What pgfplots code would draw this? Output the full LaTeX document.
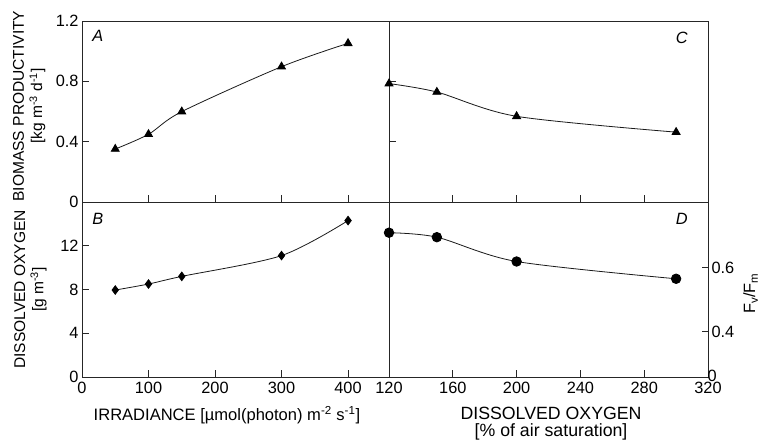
\documentclass[border=0pt]{standalone}
\usepackage{fontspec}
\setmainfont{Liberation Sans}
\usepackage{pgfplots}
\pgfplotsset{compat=1.18}

\pgfplotsset{
  panel/.style={
    scale only axis,
    axis line style={black!85, line width=0.9bp},
    tick style={black!85, line width=0.9bp},
    tick align=inside,
    major tick length=6.5bp,
    font=\fontsize{16.4}{18.5}\selectfont,
    /pgf/number format/assume math mode=true,
    xticklabel style={yshift=-2bp},
    clip=false,
  },
  curve/.style={black!90, line width=0.8bp, smooth, tension=0.5,
    mark options={solid, fill=black, draw=black}},
}
\tikzset{tag/.style={font=\fontsize{16.4}{18.5}\selectfont\itshape, inner sep=0pt}}

\begin{document}
\begin{tikzpicture}[x=1bp, y=1bp]
\useasboundingbox (0,0) rectangle (759,441);

% A: biomass productivity vs irradiance
\begin{axis}[panel, at={(82bp,239bp)}, anchor=south west,
  width=307bp, height=181bp,
  xmin=0, xmax=461.6, ymin=0, ymax=1.2,
  xtick={100,200,300,400}, xticklabels={,,,,}, xtick pos=bottom,
  ytick={0,0.4,0.8,1.2}, ytick pos=left,
  ylabel={BIOMASS PRODUCTIVITY\\{}[kg m\textsuperscript{-3} d\textsuperscript{-1}]},
  ylabel style={align=center, inner sep=0pt,
    font=\fontsize{15.6}{18.5}\selectfont,
    at={(axis description cs:-0.172,0.53)}, anchor=center},
]
\addplot[curve, mark=triangle*, mark size=4.6] coordinates {
  (50,0.351) (100,0.449) (150,0.599) (300,0.897) (400,1.052)
};
\node[tag, anchor=north west] at (rel axis cs:0.033,0.950) {A};
\end{axis}

% C: biomass productivity vs dissolved oxygen
\begin{axis}[panel, at={(389bp,239bp)}, anchor=south west,
  width=319bp, height=181bp,
  xmin=120, xmax=320, ymin=0, ymax=1.2,
  xtick={160,200,240,280}, xticklabels={,,,,}, xtick pos=bottom,
  ytick={0.4,0.8}, yticklabels={,,}, ytick pos=left,
]
\addplot[curve, mark=triangle*, mark size=4.6] coordinates {
  (120,0.785) (150,0.729) (200,0.568) (300,0.463)
};
\node[tag, anchor=north east] at (rel axis cs:0.937,0.939) {C};
\end{axis}

% B: dissolved oxygen vs irradiance
\begin{axis}[panel, at={(82bp,64bp)}, anchor=south west,
  width=307bp, height=175bp,
  xmin=0, xmax=461.6, ymin=0, ymax=16,
  xtick={0,100,200,300,400}, xtick pos=bottom,
  ytick={0,4,8,12}, ytick pos=left,
  ylabel={DISSOLVED OXYGEN\\{}[g m\textsuperscript{-3}]},
  ylabel style={align=center, inner sep=0pt,
    font=\fontsize{15.6}{18.5}\selectfont,
    at={(axis description cs:-0.168,0.5)}, anchor=center},
  xlabel={IRRADIANCE [µmol(photon) m\textsuperscript{-2} s\textsuperscript{-1}]},
  xlabel style={inner sep=0pt, font=\fontsize{16.6}{18.5}\selectfont,
    at={(axis description cs:0.472,-0.25)}, anchor=base},
]
\addplot[curve, mark=diamond*, mark size=4.3] coordinates {
  (50,7.95) (100,8.5) (150,9.2) (300,11.1) (400,14.3)
};
\node[tag, anchor=north west] at (rel axis cs:0.033,0.937) {B};
\end{axis}

% D: Fv/Fm vs dissolved oxygen
\begin{axis}[panel, at={(389bp,64bp)}, anchor=south west,
  width=319bp, height=175bp,
  xmin=120, xmax=320, ymin=0.258, ymax=0.805,
  xtick={120,160,200,240,280,320}, xtick pos=bottom,
  ytick={0.258,0.4,0.6},
  yticklabels={\raisebox{2.5bp}{\hspace*{-4bp}0},0.4,0.6},
  ytick pos=right, yticklabel pos=right,
  xlabel={DISSOLVED OXYGEN\\{}[\% of air saturation]},
  xlabel style={align=center, inner sep=0pt,
    font=\fontsize{17.8}{17.2}\selectfont,
    at={(axis description cs:0.508,-0.171)}, anchor=north},
  ylabel={F\textsubscript{v}/F\textsubscript{m}},
  ylabel style={inner sep=0pt, font=\fontsize{16.4}{18.5}\selectfont,
    at={(axis description cs:1.148,0.477)}, anchor=base},
]
\addplot[curve, mark=*, mark size=4.8] coordinates {
  (120,0.709) (150,0.695) (200,0.619) (300,0.565)
};
\node[tag, anchor=north east] at (rel axis cs:0.937,0.937) {D};
\end{axis}
\end{tikzpicture}
\end{document}
